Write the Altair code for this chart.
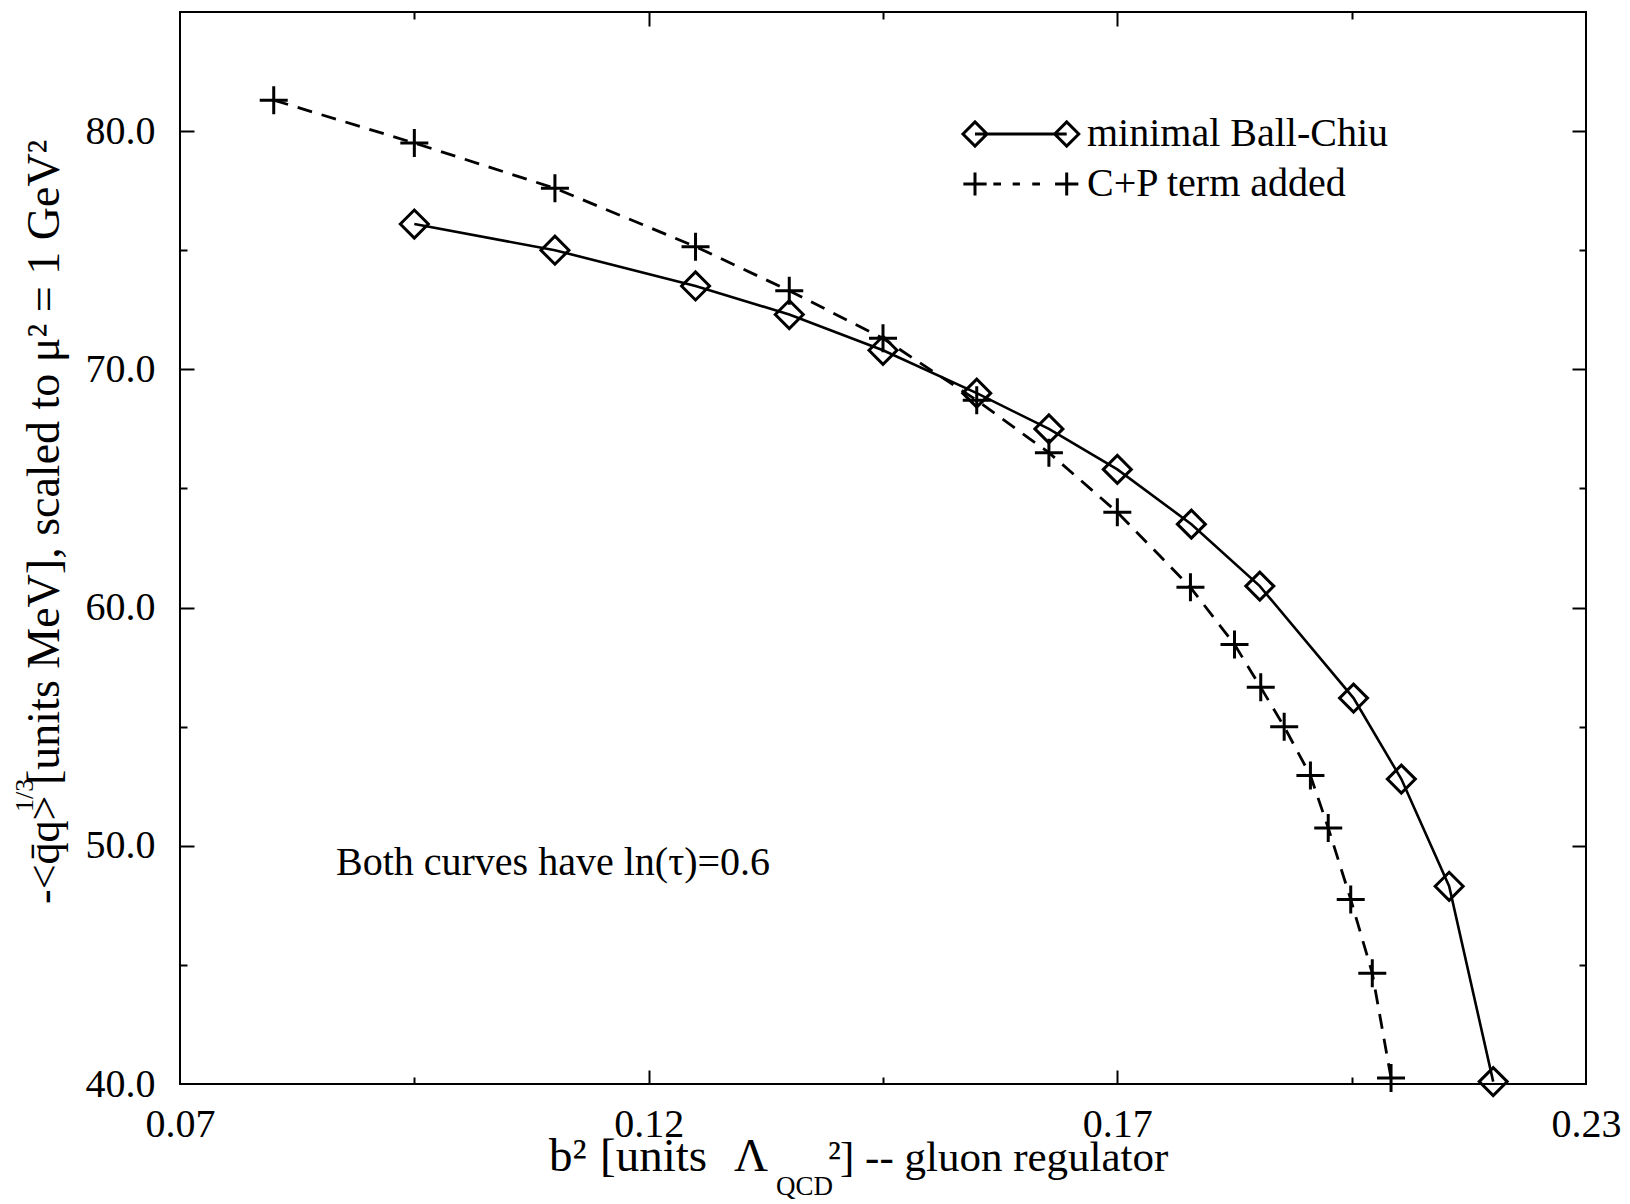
import altair as alt
import pandas as pd

# ---------------- data ----------------
SERIES = ["minimal Ball-Chiu", "C+P term added"]
BC_X = [0.095, 0.110, 0.125, 0.135, 0.145, 0.155, 0.1627, 0.170, 0.1779, 0.1852,
        0.1952, 0.2003, 0.2054, 0.2101]
BC_Y = [76.1, 75.0, 73.5, 72.3, 70.8, 69.0, 67.5, 65.8, 63.5, 60.9,
        56.2, 52.8, 48.3, 40.1]
CP_X = [0.080, 0.095, 0.110, 0.125, 0.135, 0.145, 0.155, 0.1627, 0.170, 0.1778,
        0.1825, 0.1853, 0.1878, 0.1906, 0.1925, 0.1949, 0.1972, 0.1992]
CP_Y = [81.3, 79.5, 77.6, 75.15, 73.3, 71.3, 68.7, 66.5, 64.0, 60.85,
        58.45, 56.65, 55.0, 52.95, 50.75, 47.75, 44.65, 40.25]

X_DOMAIN = [0.07, 0.22]
Y_DOMAIN = [40, 85]
X_LABEL_VALUES = [0.07, 0.12, 0.17, 0.22]
X_LABEL_TEXTS = ["0.07", "0.12", "0.17", "0.23"]
X_TICK_VALUES = [0.095, 0.12, 0.145, 0.17, 0.195]
Y_LABEL_VALUES = [40, 50, 60, 70, 80]
Y_TICK_VALUES = [45, 50, 55, 60, 65, 70, 75, 80]

X_TITLE = ["b²", "[units", "Λ", "QCD", "²", "] -- gluon regulator"]
Y_TITLE = ["-<q̄q>", "1/3", "[units MeV], scaled to μ² = 1 GeV²"]
NOTE = "Both curves have ln(τ)=0.6"

# ---------------- styling ----------------
FONT = "Liberation Serif"
FS = 40
W, H = 1406, 1072
CROSS = "M-1,0H1M0,-1V1"
LEG_BC = ("M-0.86,0L0,-0.86L0.86,0L0,0.86Z M0,0L6.55,0 "
          "M5.69,0L6.55,-0.86L7.41,0L6.55,0.86Z")
LEG_CP = ("M-0.83,0H0.83M0,-0.83V0.83 M1.31,0H1.86M2.69,0H3.21M4.09,0H4.64 "
          "M5.72,0H7.38M6.55,-0.83V0.83")

bc = pd.DataFrame({"x": BC_X, "y": BC_Y, "i": list(range(len(BC_X))), "series": SERIES[0]})
cp = pd.DataFrame({"x": CP_X, "y": CP_Y, "i": list(range(len(CP_X))), "series": SERIES[1]})
pts = pd.concat([bc, cp], ignore_index=True)

# label expression built from the tick label arrays
label_expr = "'" + X_LABEL_TEXTS[-1] + "'"
for k in reversed(range(len(X_LABEL_VALUES) - 1)):
    thr = (X_LABEL_VALUES[k] + X_LABEL_VALUES[k + 1]) / 2
    label_expr = f"datum.value < {thr} ? '{X_LABEL_TEXTS[k]}' : ({label_expr})"

x_major_test = " || ".join(f"abs(datum.value - {v}) < 0.001" for v in X_LABEL_VALUES)
y_major_test = " || ".join(f"abs(datum.value - {v}) < 0.001" for v in Y_LABEL_VALUES)

xs = alt.Scale(domain=X_DOMAIN, nice=False, zero=False)
ys = alt.Scale(domain=Y_DOMAIN, nice=False, zero=False)

x_main = alt.Axis(orient="bottom", values=X_LABEL_VALUES, labelExpr=label_expr,
                  ticks=False, tickSize=0, domain=False, grid=False, title=None,
                  labelFont=FONT, labelFontSize=FS, labelColor="black",
                  labelPadding=20, labelFlush=False, labelOverlap=False)
y_main = alt.Axis(orient="left", values=Y_LABEL_VALUES, format=".1f",
                  ticks=False, tickSize=0, domain=False, grid=False, title=None,
                  labelFont=FONT, labelFontSize=FS, labelColor="black",
                  labelPadding=25, labelFlush=False, labelOverlap=False)


def tick_axis(orient, offset, values, test):
    return alt.Axis(orient=orient, offset=offset, values=values, labels=False,
                    domain=False, grid=False, title=None, ticks=True,
                    tickColor="black", tickWidth=2,
                    tickSize={"condition": {"test": test, "value": 14}, "value": 7})


line_bc = alt.Chart(bc).mark_line(color="black", strokeWidth=2.6).encode(
    x=alt.X("x:Q", scale=xs, axis=x_main),
    y=alt.Y("y:Q", scale=ys, axis=y_main),
    order="i:Q",
)
line_cp = alt.Chart(cp).mark_line(color="black", strokeWidth=2.8, strokeDash=[15, 10]).encode(
    x=alt.X("x:Q", scale=xs, axis=tick_axis("top", -H, X_TICK_VALUES, x_major_test)),
    y=alt.Y("y:Q", scale=ys, axis=tick_axis("right", -W, Y_TICK_VALUES, y_major_test)),
    order="i:Q",
)
points = alt.Chart(pts).mark_point(color="black", filled=False, opacity=1, size=784,
                                   strokeWidth=3).encode(
    x=alt.X("x:Q", scale=xs, axis=tick_axis("bottom", -H, X_TICK_VALUES, x_major_test)),
    y=alt.Y("y:Q", scale=ys, axis=tick_axis("left", -W, Y_TICK_VALUES, y_major_test)),
    shape=alt.Shape("series:N", scale=alt.Scale(domain=SERIES, range=["diamond", CROSS]),
                    legend=None),
)
legend_layer = alt.Chart(pts).mark_point(color="black", filled=False, opacity=1, size=0,
                                         strokeWidth=3).encode(
    x=alt.X("x:Q", scale=xs, axis=None),
    y=alt.Y("y:Q", scale=ys, axis=None),
    shape=alt.Shape(
        "series:N",
        scale=alt.Scale(domain=SERIES, range=[LEG_BC, LEG_CP]),
        legend=alt.Legend(title=None, orient="none", legendX=775, legendY=102,
                          direction="vertical", symbolSize=784, symbolStrokeWidth=3,
                          symbolStrokeColor="black", symbolFillColor="transparent",
                          labelFont=FONT, labelFontSize=FS, labelColor="black",
                          labelOffset=92, rowPadding=10, padding=0, labelLimit=600),
    ),
)


def txt(text, x, y, size=FS, align="left", angle=0):
    kw = dict(font=FONT, fontSize=size, align=align, baseline="alphabetic", color="black")
    if angle:
        kw["angle"] = angle
    return alt.Chart(pd.DataFrame({"t": [text]})).mark_text(**kw).encode(
        text="t:N", x=alt.value(x), y=alt.value(y))


# text pieces are placed in plot pixels (plot origin is at page x=180, y=12)
TS = 43
TL = 47
texts = [
    txt(X_TITLE[0], 369, 1159, size=TL),
    txt(X_TITLE[1], 420, 1159, size=TL),
    txt(X_TITLE[2], 554, 1159, size=TL),
    txt(X_TITLE[3], 596, 1183, size=27),
    txt(X_TITLE[4], 648, 1159, size=TS),
    txt(X_TITLE[5], 660, 1159, size=TS),
    txt(Y_TITLE[0], -121, 892, size=44, angle=270),
    txt(Y_TITLE[1], -147, 800, size=26, angle=270),
    txt(Y_TITLE[2], -121, 773, size=46, angle=270),
    txt(NOTE, 156, 863),
]

chart = alt.layer(line_bc, line_cp, points, legend_layer, *texts).resolve_axis(
    x="independent", y="independent"
).resolve_scale(shape="independent").properties(
    width=W, height=H,
    padding={"left": 172, "top": 4, "right": 36, "bottom": 116},
    autosize=alt.AutoSizeParams(type="none"),
).configure_view(stroke="black", strokeWidth=2)

chart.save("out.html", embed_options={"renderer": "svg", "actions": False})
